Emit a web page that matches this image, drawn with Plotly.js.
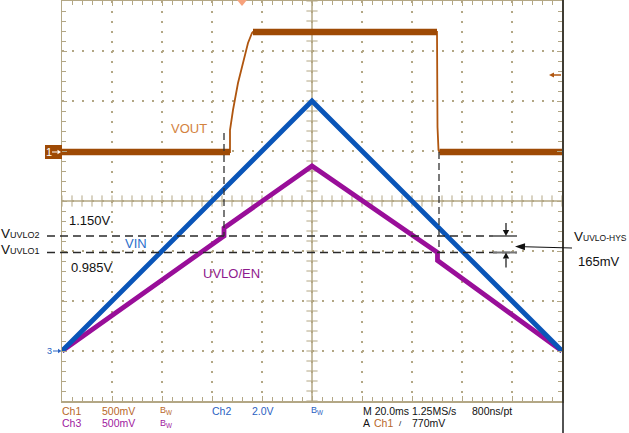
<!DOCTYPE html>
<html><head><meta charset="utf-8">
<script src="https://cdn.plot.ly/plotly-3.0.1.min.js"></script>
<style>html,body{margin:0;padding:0;background:#fff}#chart{width:629px;height:433px}</style>
</head><body><div id="chart"></div>
<script>
// ---------------- DATA (read from the scope capture) ----------------
// time in ms (20 ms/div, 10 div)
const vinTime   = [0, 100, 200];
const vinVolts  = [0, 10.0, 0];                       // Ch2, 2.0 V/div
const uvloTime  = [0, 64.8, 64.8, 100, 150.2, 150.2, 200];
const uvloVolts = [0, 1.15, 1.23, 1.85, 0.985, 0.905, 0];   // Ch3, 500 mV/div
const voutTime  = [0, 67.2, 67.2, 68.4, 70.4, 72.4, 74.4, 76.0, 76.4, 150.0, 150.2, 150.6, 151.0, 200];
const voutVolts = [0, 0, 0.22, 0.42, 0.69, 0.89, 1.09, 1.19, 1.20, 1.20, 0.25, 0.02, 0, 0]; // Ch1, 500 mV/div
const thresholds = [1.150, 0.985];                    // UVLO2, UVLO1 (V)
const thresholdNames = ['UVLO2', 'UVLO1'];
const markerTimes = [64.8, 150.8];                    // dashed vertical markers (ms)
const triggerLevel = 0.77;                            // V on Ch1
const triggerTime = 72;                               // ms
const traceNames = ['VOUT', 'VIN', 'UVLO/EN'];

// ---------------- SCOPE SETTINGS ----------------
const ch1 = {scale: 0.5, offset: 0.98};
const ch2 = {scale: 2.0, offset: -3};
const ch3 = {scale: 0.5, offset: -3};
const toDiv = (v, ch) => v == null ? null : v / ch.scale + ch.offset;

// ---------------- GEOMETRY ----------------
const W = 629, H = 433, ML = 62, MR = 67, MT = 1, MB = 32;
const PW = W - ML - MR, PH = H - MT - MB;
const px = x => (x - ML) / PW;          // pixel -> paper
const py = y => (H - MB - y) / PH;
const xPix = t => ML + t / 200 * PW;     // data -> pixel
const yPix = d => MT + (4 - d) / 8 * PH;

const tan = '#b3a785';
const brown = '#9e4a05', brownThin = '#b0560f', voutLabel = '#d3823e';
const blue = '#0a55b8', purple = '#990e99';
const ch1Text = '#b8682a', ch2Text = '#2a62c2', ch3Text = '#a020a0';
const FONT = 'Liberation Sans, Arial, sans-serif';

// VOUT: flat segments drawn thick, transitions thin
const thickX = [], thickY = [];
for (let i = 0; i < voutTime.length - 1; i++) {
  if (voutVolts[i] === voutVolts[i + 1]) {
    thickX.push(voutTime[i], voutTime[i + 1], null);
    thickY.push(toDiv(voutVolts[i], ch1), toDiv(voutVolts[i + 1], ch1), null);
  }
}

// graticule center ticks
const cx = [], cy = [], vx = [], vy = [];
for (let t = 0; t <= 200; t += 4) { if (t !== 100) { cx.push(t); cy.push(0); } }
for (let k = -20; k <= 20; k++) { if (k !== 0) { vx.push(100); vy.push(k * 0.2); } }

const traces = [
  {x: cx, y: cy, mode: 'markers', hoverinfo: 'skip', showlegend: false,
   marker: {symbol: 'line-ns', size: 8, line: {width: 1, color: tan}}},
  {x: vx, y: vy, mode: 'markers', hoverinfo: 'skip', showlegend: false,
   marker: {symbol: 'line-ew', size: 8, line: {width: 1, color: tan}}},
  {x: uvloTime, y: uvloVolts.map(v => toDiv(v, ch3)), mode: 'lines', name: traceNames[2],
   line: {color: purple, width: 4.8}, showlegend: false, hoverinfo: 'skip'},
  {x: vinTime, y: vinVolts.map(v => toDiv(v, ch2)), mode: 'lines', name: traceNames[1],
   line: {color: blue, width: 4.8}, showlegend: false, hoverinfo: 'skip'},
  {x: voutTime, y: voutVolts.map(v => toDiv(v, ch1)), mode: 'lines', name: traceNames[0],
   line: {color: brownThin, width: 1.8}, showlegend: false, hoverinfo: 'skip'},
  {x: thickX, y: thickY, mode: 'lines', line: {color: brown, width: 6.5},
   showlegend: false, hoverinfo: 'skip', connectgaps: false}
];

const shapes = [
  {type: 'line', xref: 'x', yref: 'paper', x0: 100, x1: 100, y0: 0, y1: 1, layer: 'between', line: {color: tan, width: 1.5}},
  {type: 'line', xref: 'paper', yref: 'y', x0: 0, x1: 1, y0: 0, y1: 0, layer: 'between', line: {color: tan, width: 1.5}},
  // right black frame line
  {type: 'line', xref: 'paper', yref: 'paper', x0: px(563), x1: px(563), y0: py(433), y1: py(0), line: {color: '#1a1a1a', width: 1.5}},
  // trigger position marker
  {type: 'path', xref: 'paper', yref: 'paper', fillcolor: '#f7a27c', line: {width: 0},
   path: `M${px(xPix(triggerTime) - 5)},${py(0)} L${px(xPix(triggerTime) + 5)},${py(0)} L${px(xPix(triggerTime))},${py(6)} Z`},
  // channel 1 ground marker box
  {type: 'rect', xref: 'paper', yref: 'paper', x0: px(45), x1: px(62), y0: py(yPix(ch1.offset) - 7), y1: py(yPix(ch1.offset) + 7),
   fillcolor: brown, line: {width: 0}}
];

// arrow as line + filled head (tail x1,y1 -> tip x2,y2, pixel coords)
function arrowShape(x1, y1, x2, y2, color, hl, hw, lw) {
  const dx = x2 - x1, dy = y2 - y1, len = Math.hypot(dx, dy), ux = dx / len, uy = dy / len;
  const bx = x2 - ux * hl, by = y2 - uy * hl;
  shapes.push({type: 'line', xref: 'paper', yref: 'paper', x0: px(x1), y0: py(y1), x1: px(bx), y1: py(by),
    line: {color: color, width: lw || 1.2}});
  shapes.push({type: 'path', xref: 'paper', yref: 'paper', fillcolor: color, line: {width: 0},
    path: `M${px(x2)},${py(y2)} L${px(bx - uy * hw)},${py(by + ux * hw)} L${px(bx + uy * hw)},${py(by - ux * hw)} Z`});
}

// threshold dashed lines
thresholds.forEach(v => {
  const yp = py(yPix(toDiv(v, ch3)));
  shapes.push({type: 'line', xref: 'paper', yref: 'paper', x0: px(47), x1: px(517), y0: yp, y1: yp,
    line: {color: '#2a2a2a', width: 1.3, dash: '8px,5px'}});
  shapes.push({type: 'line', xref: 'paper', yref: 'paper', x0: px(493), x1: px(517), y0: yp, y1: yp,
    line: {color: '#777', width: 2}});
});
// vertical dashed markers: from VOUT level down to the threshold crossed
const vTop = [yPix(toDiv(0.19, ch1)), yPix(toDiv(0, ch1))];
markerTimes.forEach((t, i) => {
  shapes.push({type: 'line', xref: 'paper', yref: 'paper', x0: px(xPix(t)), x1: px(xPix(t)),
    y0: py(vTop[i]), y1: py(yPix(toDiv(thresholds[i], ch3))),
    line: {color: '#333', width: 1.3, dash: '7px,4px'}});
});

// hysteresis arrows
const yU2 = yPix(toDiv(thresholds[0], ch3)), yU1 = yPix(toDiv(thresholds[1], ch3));
arrowShape(506, yU2 - 13, 506, yU2, '#111', 6, 3.2);
arrowShape(506, yU1 + 15, 506, yU1, '#111', 6, 3.2);
arrowShape(572, 248, 515, 246.5, '#111', 10, 3.6);
// trigger level arrow
const yTrig = yPix(toDiv(triggerLevel, ch1));
arrowShape(561, yTrig, 549, yTrig, brownThin, 5, 2.6, 1.5);
// channel ground arrows
arrowShape(52, yPix(ch1.offset), 61, yPix(ch1.offset), '#fff', 3.5, 2.3, 1);
arrowShape(53, yPix(ch2.offset), 61.5, yPix(ch2.offset), '#2a62c2', 3.5, 2.3, 1);

const ann = [];
function txt(x, y, text, color, size, anchor, extra) {
  ann.push(Object.assign({xref: 'paper', yref: 'paper', x: px(x), y: py(y), text: text, showarrow: false,
    xanchor: anchor || 'left', yanchor: 'middle', borderpad: 0, borderwidth: 0,
    font: {family: FONT, size: size, color: color}}, extra || {}));
}
// trace labels
txt(189, 128, traceNames[0], voutLabel, 13, 'center');
txt(136, 244, traceNames[1], '#2c6fcc', 13, 'center');
txt(231, 273, traceNames[2], '#8e1a8e', 13, 'center');
// threshold labels
txt(69, 220.5, thresholds[0].toFixed(3) + 'V', '#111', 13);
txt(71, 267, thresholds[1].toFixed(3) + 'V', '#111', 13);
thresholds.forEach((v, i) => {
  txt(1, yPix(toDiv(v, ch3)) - 3, 'V<span style="font-size:9px">' + thresholdNames[i] + '</span>', '#111', 13.5);
});
txt(574, 236, 'V<span style="font-size:8.5px">UVLO-HYS</span>', '#111', 13.5);
txt(578, 261, Math.round((thresholds[0] - thresholds[1]) * 1000) + 'mV', '#111', 13);

// channel ground marker labels
txt(48.5, yPix(ch1.offset), '1', '#fff', 11, 'center');
txt(49.5, yPix(ch2.offset), '3', '#2a62c2', 9, 'center');

// bottom status lines
const r1 = 411, r2 = 423, fs = 10.5;
txt(62, r1, 'Ch1', ch1Text, fs); txt(102, r1, (ch1.scale * 1000) + 'mV', ch1Text, fs);
txt(160, r1, 'B<sub>W</sub>', ch1Text, 9);
txt(212, r1, 'Ch2', ch2Text, fs); txt(252, r1, ch2.scale.toFixed(1) + 'V', ch2Text, fs);
txt(311, r1, 'B<sub>W</sub>', ch2Text, 9);
txt(363, r1, 'M 20.0ms 1.25MS/s', '#111', fs); txt(472, r1, '800ns/pt', '#111', fs);
txt(62, r2, 'Ch3', ch3Text, fs); txt(102, r2, (ch3.scale * 1000) + 'mV', ch3Text, fs);
txt(160, r2, 'B<sub>W</sub>', ch3Text, 9);
txt(363, r2, 'A', '#111', fs); txt(374, r2, 'Ch1', ch1Text, fs);
txt(399, r2, '/', '#111', 8); txt(412, r2, Math.round(triggerLevel * 1000) + 'mV', '#111', fs);

const axBase = {showticklabels: false, zeroline: false, showline: true, linecolor: tan, linewidth: 1.5,
  mirror: 'allticks', ticks: 'inside', ticklen: 5, tickcolor: tan, tickwidth: 1,
  showgrid: true, gridcolor: tan, gridwidth: 1.5, griddash: '1.5px,8.5px', fixedrange: true};

const layout = {
  width: W, height: H, margin: {l: ML, r: MR, t: MT, b: MB, pad: 0},
  paper_bgcolor: '#fff', plot_bgcolor: '#fff', showlegend: false,
  xaxis: Object.assign({}, axBase, {range: [0, 200], tick0: 0, dtick: 20,
    minor: {dtick: 4, ticks: 'inside', ticklen: 4, tickcolor: tan, tickwidth: 1, showgrid: false}}),
  yaxis: Object.assign({}, axBase, {range: [-4, 4], tick0: 0, dtick: 1,
    minor: {dtick: 0.2, ticks: 'inside', ticklen: 4, tickcolor: tan, tickwidth: 1, showgrid: false}}),
  shapes: shapes, annotations: ann
};

Plotly.newPlot('chart', traces, layout, {staticPlot: true, displayModeBar: false});
</script></body></html>
